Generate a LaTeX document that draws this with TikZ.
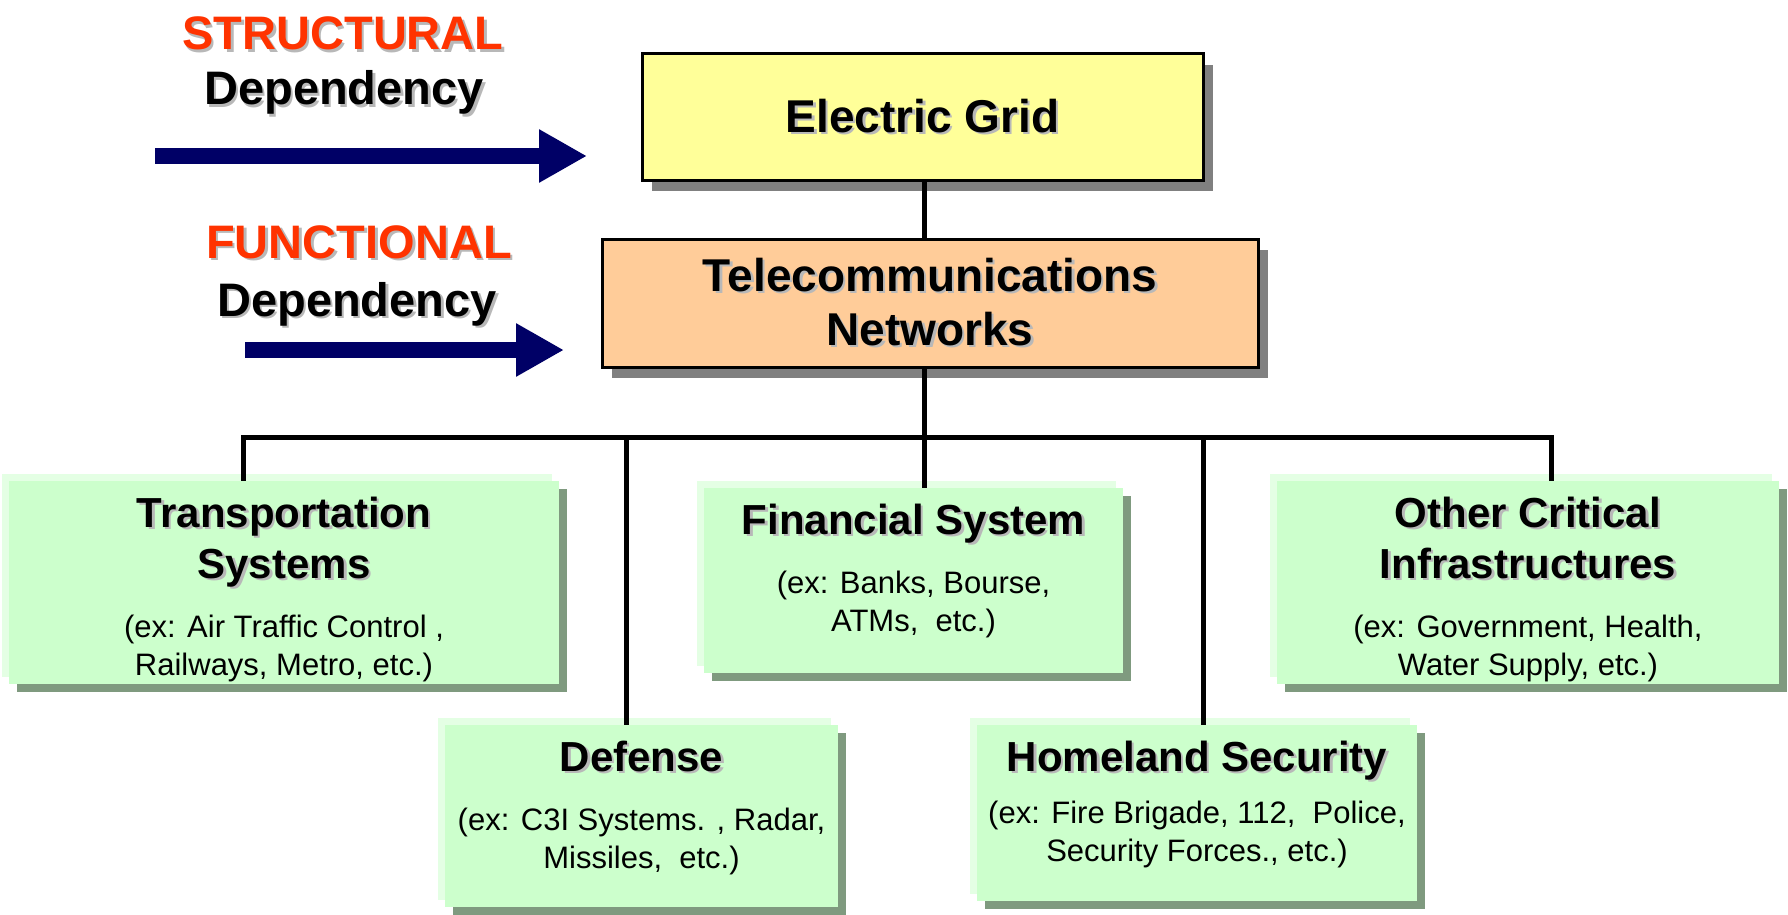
\documentclass[tikz,border=0pt]{standalone}
\usepackage{fontspec}
\setmainfont{Liberation Sans}
\usetikzlibrary{shadows,arrows.meta}
\definecolor{boxgreen}{HTML}{CCFFCC}
\definecolor{lightgreen}{HTML}{E4FFE4}
\definecolor{shadowgreen}{HTML}{7F9A7F}
\definecolor{shadowgray}{HTML}{808080}
\definecolor{txtshadow}{HTML}{B8B8B8}
\definecolor{elecyellow}{HTML}{FFFF99}
\definecolor{telepeach}{HTML}{FFCC99}
\definecolor{arrownavy}{HTML}{000066}
\definecolor{labelred}{HTML}{FF3300}
\newcommand{\hfnt}{\fontsize{42pt}{51pt}\selectfont\bfseries}
\newcommand{\sfnt}{\fontsize{31pt}{38pt}\selectfont}
\newcommand{\sh}[1]{\leavevmode\rlap{\kern2.5pt\raisebox{-2.5pt}{\textcolor{txtshadow}{#1}}}#1}
\newcommand{\bxt}[5]{\parbox[c][#2][t]{#1}{\centering\vspace*{16pt}{\hfnt #4\par}\vspace{#3}{\sfnt #5\par}}}
\begin{document}
\begin{tikzpicture}[x=1pt,y=-1pt,
  topbox/.style={draw=black,line width=3pt,inner sep=0pt,align=center,
    font=\fontsize{46pt}{54pt}\selectfont\bfseries,
    drop shadow={shadow xshift=10pt,shadow yshift=-11pt,fill=shadowgray,opacity=1}},
  gbox/.style={fill=boxgreen,inner sep=0pt,
    general shadow={shadow xshift=-7pt,shadow yshift=7pt,fill=lightgreen,opacity=1},
    drop shadow={shadow xshift=8pt,shadow yshift=-8pt,fill=shadowgreen,opacity=1}},
  conn/.style={line width=5pt,black},
  deparrow/.style={line width=16pt,arrownavy,-{Triangle[length=48pt,width=50pt]}},
  redlabel/.style={anchor=base,text=labelred,font=\fontsize{47pt}{56pt}\selectfont\bfseries},
  deplabel/.style={anchor=base,text=black,font=\fontsize{47pt}{56pt}\selectfont\bfseries}]
\useasboundingbox (0,0) rectangle (1788,915);

% left labels and arrows
\node[redlabel] (sTitle) at (343,50) {\sh{STRUCTURAL}};
\node[deplabel] (sDep) at (344,105) {\sh{Dependency}};
\node[redlabel] (fTitle) at (359,258) {\sh{FUNCTIONAL}};
\node[deplabel] (fDep) at (357,316) {\sh{Dependency}};
\coordinate (a1s) at (155,156);
\coordinate (a1e) at (587,156);
\coordinate (a2s) at (245,350);
\coordinate (a2e) at (564,350);
\draw[deparrow] (a1s) -- (a1e);
\draw[deparrow] (a2s) -- (a2e);

% top boxes
\node[topbox,fill=elecyellow,minimum width=561pt,minimum height=126pt] (elec) at (922.5,117) {\sh{Electric Grid}};
\node[topbox,fill=telepeach,minimum width=656pt,minimum height=128pt] (tele) at (930,303) {\sh{Telecommunications}\\\sh{Networks}};

% lower boxes
\node[gbox] (trans) at (284,582.5) {\bxt{550pt}{203pt}{21pt}{\sh{Transportation}\\\sh{Systems}}{(ex: Air Traffic Control ,\\ Railways, Metro, etc.)}};
\node[gbox] (fin) at (913.5,580.5) {\bxt{419pt}{185pt}{21pt}{\sh{Financial System}}{(ex: Banks, Bourse,\\ATMs,~~etc.)}};
\node[gbox] (other) at (1528,582.5) {\bxt{502pt}{203pt}{21pt}{\sh{Other Critical}\\\sh{Infrastructures}}{(ex: Government, Health,\\Water Supply, etc.)}};
\node[gbox] (def) at (641.5,816) {\bxt{393pt}{182pt}{21pt}{\sh{Defense}}{(ex: C3I Systems. , Radar,\\Missiles,~~etc.)}};
\node[gbox] (home) at (1197,813) {\bxt{440pt}{176pt}{14pt}{\sh{Homeland Security}}{(ex: Fire Brigade, 112,~~Police,\\Security Forces., etc.)}};

% connectors
\coordinate (jc) at (924,437);
\coordinate (dT) at (243,437);
\coordinate (dD) at (626,437);
\coordinate (dH) at (1203,437);
\coordinate (dO) at (1551,437);
\draw[conn] (elec.south -| jc) -- (tele.north -| jc);
\draw[conn] (tele.south -| jc) -- (jc) -- (jc |- fin.north);
\draw[conn] (dT |- trans.north) -- (dT) -- (dO) -- (dO |- other.north);
\draw[conn] (dD) -- (dD |- def.north);
\draw[conn] (dH) -- (dH |- home.north);
\end{tikzpicture}
\end{document}
